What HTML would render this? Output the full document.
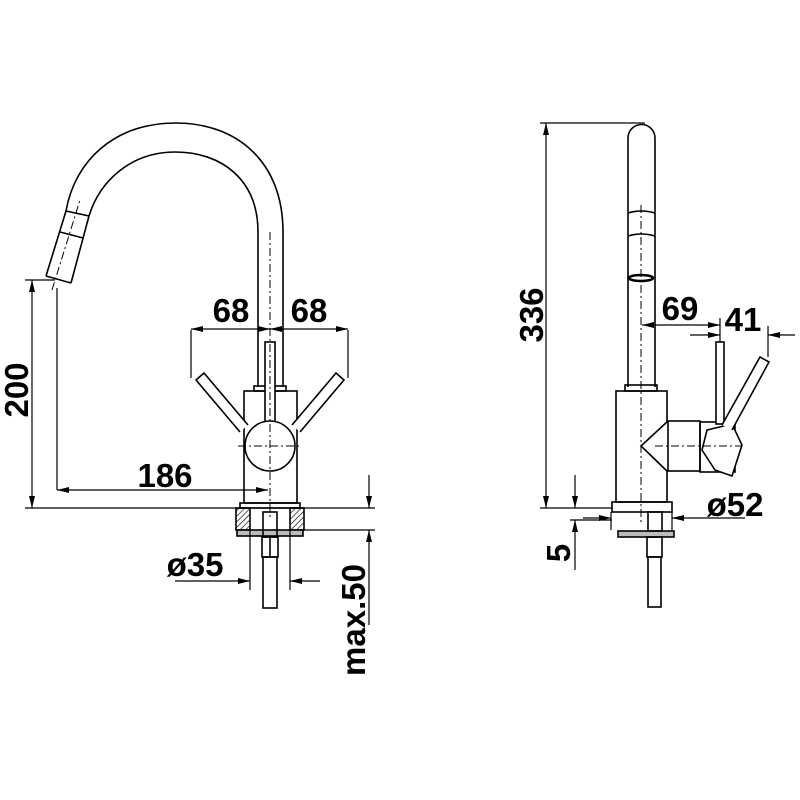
<!DOCTYPE html>
<html><head><style>
html,body{margin:0;padding:0;background:#fff;}
svg{display:block;}
text{font-family:"Liberation Sans",sans-serif;font-weight:bold;fill:#000;}
</style></head><body>
<svg width="800" height="800" viewBox="0 0 800 800" xmlns="http://www.w3.org/2000/svg">
<defs>
<marker id="a" viewBox="0 0 12 6" refX="12" refY="3" markerWidth="12" markerHeight="6" orient="auto-start-reverse" markerUnits="userSpaceOnUse"><path d="M0,0 L12,3 L0,6 z" fill="#000"/></marker>
<pattern id="h" patternUnits="userSpaceOnUse" width="4" height="4" patternTransform="rotate(45)"><line x1="0" y1="0" x2="0" y2="4" stroke="#000" stroke-width="1.3"/></pattern>
</defs>
<g fill="none" stroke="#000" stroke-width="1.6">
<path d="M283,235 L283,232 C283,160 235,123 176,123 C115,123 75,160 66,211"/>
<path d="M258,235 L258,232 C258,180 222,152 175,152 C132,152 100,180 89,216"/>
<path d="M66,211 L89,216 M60,232 L83,238 M46,276 L71,283 M66,211 L46,276 M89,216 L71,283"/>
<line x1="258" y1="235" x2="258" y2="387"/><line x1="283" y1="235" x2="283" y2="387"/>
<rect x="254" y="386" width="32" height="5"/>
<rect x="244" y="391" width="53" height="112"/>
<rect x="240" y="503" width="60" height="5"/>
<rect x="236" y="508" width="14" height="22" fill="url(#h)"/>
<rect x="290" y="508" width="14" height="22" fill="url(#h)"/>
<rect x="237" y="530" width="66" height="6" fill="#bbb"/>
<rect x="263" y="512" width="14" height="25"/>
<rect x="262" y="537" width="16" height="20"/>
<line x1="270" y1="537" x2="270" y2="557"/>
<rect x="263" y="557" width="14" height="51"/>
<path d="M240,432 L196,380 L204,373 L248,425" fill="#fff"/>
<path d="M300,432 L344,380 L336,373 L292,425" fill="#fff"/>
<rect x="265" y="342" width="10" height="98" fill="#fff"/>
<circle cx="270" cy="446" r="25" fill="#fff"/>
<g stroke-width="1" stroke-dasharray="8,3,2,3">
<line x1="270" y1="232" x2="270" y2="520"/>
<line x1="238" y1="446" x2="302" y2="446"/>
<line x1="52" y1="290" x2="80" y2="200"/>
</g>
<g stroke-width="1.2">
<line x1="191" y1="330" x2="191" y2="378"/><line x1="348" y1="330" x2="348" y2="378"/>
<line x1="191" y1="329" x2="270" y2="329" marker-start="url(#a)" marker-end="url(#a)"/>
<line x1="270" y1="329" x2="348" y2="329" marker-start="url(#a)" marker-end="url(#a)"/>
<line x1="25" y1="280" x2="55" y2="280"/>
<line x1="32" y1="280" x2="32" y2="508" marker-start="url(#a)" marker-end="url(#a)"/>
<line x1="57" y1="288" x2="57" y2="490"/>
<line x1="57" y1="490" x2="268" y2="490" marker-start="url(#a)" marker-end="url(#a)"/>
<line x1="25" y1="508" x2="375" y2="508"/>
<line x1="300" y1="530" x2="375" y2="530"/>
<line x1="369" y1="475" x2="369" y2="508" marker-end="url(#a)"/>
<line x1="369" y1="625" x2="369" y2="530" marker-end="url(#a)"/>
<line x1="250" y1="530" x2="250" y2="590"/><line x1="290" y1="530" x2="290" y2="590"/>
<line x1="175" y1="581" x2="250" y2="581" marker-end="url(#a)"/>
<line x1="320" y1="581" x2="290" y2="581" marker-end="url(#a)"/>
</g>
<path d="M628,387 L628,138 A13.5,13.5 0 0 1 655,138 L655,387"/>
<path d="M628,213 Q641,209 655,213 M628,236 Q641,232 655,236"/>
<ellipse cx="641" cy="278" rx="12" ry="3" stroke-width="2.5"/>
<rect x="625" y="385" width="32" height="6"/>
<rect x="616" y="391" width="51" height="111"/>
<path d="M668,421 L641,446 L668,472" fill="#fff"/>
<rect x="668" y="421" width="32" height="50"/>
<rect x="700" y="422" width="35" height="50"/>
<path d="M707,430 L732,424 L742,445 L732,476 L715,470 L702,450 Z" fill="#fff"/>
<rect x="716" y="342" width="8" height="82" fill="#fff"/>
<path d="M722,425 L760,357 L769,362 L732,430" fill="#fff"/>
<rect x="612" y="502" width="60" height="10"/>
<rect x="618" y="531" width="56" height="6" fill="#bbb"/>
<rect x="648" y="512" width="14" height="19"/>
<rect x="647" y="537" width="15" height="20"/>
<rect x="648" y="557" width="13" height="50"/>
<g stroke-width="1" stroke-dasharray="8,3,2,3">
<line x1="641" y1="205" x2="641" y2="525"/>
<line x1="655" y1="446" x2="742" y2="446"/>
</g>
<g stroke-width="1.2">
<line x1="540" y1="123" x2="645" y2="123"/>
<line x1="546" y1="123" x2="546" y2="508" marker-start="url(#a)" marker-end="url(#a)"/>
<line x1="540" y1="508" x2="612" y2="508"/>
<line x1="570" y1="520" x2="612" y2="520"/>
<line x1="575" y1="475" x2="575" y2="508" marker-end="url(#a)"/>
<line x1="575" y1="570" x2="575" y2="520" marker-end="url(#a)"/>
<line x1="642" y1="325" x2="720" y2="325" marker-start="url(#a)" marker-end="url(#a)"/>
<line x1="720" y1="318" x2="720" y2="342"/>
<line x1="690" y1="335" x2="720" y2="335" marker-end="url(#a)"/>
<line x1="768" y1="326" x2="768" y2="357"/>
<line x1="795" y1="335" x2="768" y2="335" marker-end="url(#a)"/>
<line x1="611" y1="512" x2="611" y2="530"/><line x1="672" y1="512" x2="672" y2="530"/>
<line x1="583" y1="518" x2="611" y2="518" marker-end="url(#a)"/>
<line x1="745" y1="518" x2="672" y2="518" marker-end="url(#a)"/>
</g>
</g>
<g font-size="33">
<text x="231" y="322" text-anchor="middle">68</text>
<text x="309" y="322" text-anchor="middle">68</text>
<text x="165" y="487" text-anchor="middle">186</text>
<text transform="translate(28,390) rotate(-90)" text-anchor="middle">200</text>
<text x="195" y="576" text-anchor="middle">ø35</text>
<text transform="translate(365,620) rotate(-90)" text-anchor="middle">max.50</text>
<text transform="translate(543,315) rotate(-90)" text-anchor="middle">336</text>
<text x="680" y="320" text-anchor="middle">69</text>
<text x="743" y="331" text-anchor="middle">41</text>
<text x="735" y="516" text-anchor="middle">ø52</text>
<text transform="translate(570,553) rotate(-90)" text-anchor="middle">5</text>
</g>
</svg>
</body></html>
